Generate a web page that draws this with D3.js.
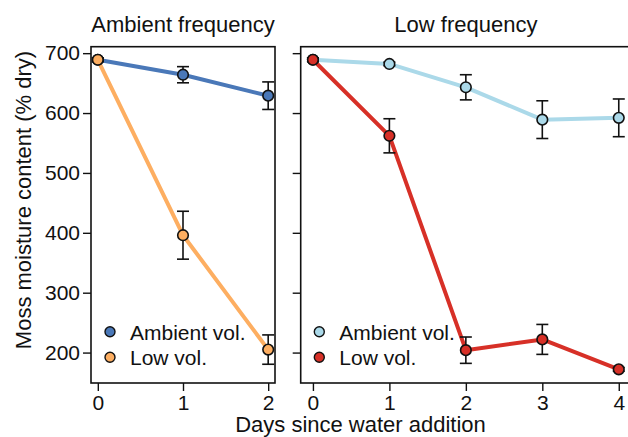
<!DOCTYPE html>
<html>
<head>
<meta charset="utf-8">
<script src="https://cdn.jsdelivr.net/npm/d3@7"></script>
<style>
  html, body { margin: 0; padding: 0; background: #fff; }
  svg { display: block; font-family: "Liberation Sans", Arial, Helvetica, sans-serif; }
</style>
</head>
<body>
<svg id="chart" width="628" height="437"></svg>
<script>
// ---- data ----
const panelTitles = ["Ambient frequency", "Low frequency"];
const seriesNames = ["Ambient vol.", "Low vol."];
const daysAmbientFreq = [0, 1, 2];
const daysLowFreq = [0, 1, 2, 3, 4];
const ambFreqAmbVol = [689, 664, 629];
const ambFreqAmbVolErr = [3, 13.5, 23];
const ambFreqLowVol = [689, 396, 205];
const ambFreqLowVolErr = [3, 40, 24.5];
const lowFreqAmbVol = [689, 682, 643, 589, 592];
const lowFreqAmbVolErr = [3, 3, 21, 31.5, 31.5];
const lowFreqLowVol = [689, 562, 204, 222, 172];
const lowFreqLowVolErr = [3, 28.5, 22, 25, 3];
const yTicks = [200, 300, 400, 500, 600, 700];
const xTicksAmbient = [0, 1, 2];
const xTicksLow = [0, 1, 2, 3, 4];
const yLabel = "Moss moisture content (% dry)";
const xLabel = "Days since water addition";

// ---- styles ----
const colors = {
  ambFreq: ["#4a78b8", "#fdae61"],
  lowFreq: ["#abd9e9", "#d73027"]
};

(function () {
const svg = d3.select("#chart");
const plotTop = 46.7, plotBottom = 383;
const y = d3.scaleLinear().domain([149.2, 710.8]).range([plotBottom, plotTop]);

const panels = [
  { title: panelTitles[0], days: daysAmbientFreq, ticks: xTicksAmbient,
    xr: [91, 275], dom: [-0.08, 2.08], labels: true,
    series: [
      { name: seriesNames[0], v: ambFreqAmbVol, e: ambFreqAmbVolErr, c: colors.ambFreq[0] },
      { name: seriesNames[1], v: ambFreqLowVol, e: ambFreqLowVolErr, c: colors.ambFreq[1] }
    ], legendX: 110 },
  { title: panelTitles[1], days: daysLowFreq, ticks: xTicksLow,
    xr: [300.7, 631], dom: [-0.16, 4.16], labels: false,
    series: [
      { name: seriesNames[0], v: lowFreqAmbVol, e: lowFreqAmbVolErr, c: colors.lowFreq[0] },
      { name: seriesNames[1], v: lowFreqLowVol, e: lowFreqLowVolErr, c: colors.lowFreq[1] }
    ], legendX: 319.3 }
];

panels.forEach(p => {
  const x = d3.scaleLinear().domain(p.dom).range(p.xr);
  const g = svg.append("g");

  g.append("rect")
    .attr("x", p.xr[0]).attr("y", plotTop)
    .attr("width", p.xr[1] - p.xr[0]).attr("height", plotBottom - plotTop)
    .attr("fill", "none").attr("stroke", "#111").attr("stroke-width", 1.6);

  const ya = g.append("g").attr("transform", `translate(${p.xr[0]},0)`)
    .call(d3.axisLeft(y).tickValues(yTicks).tickSize(8).tickPadding(3)
      .tickFormat(p.labels ? d3.format("d") : () => ""));
  ya.select(".domain").remove();
  ya.selectAll(".tick line").attr("stroke", "#111").attr("stroke-width", 1.4);
  ya.selectAll(".tick text").attr("font-size", 21).attr("fill", "#111")
    .attr("font-family", "Liberation Sans, Arial, sans-serif");

  const xa = g.append("g").attr("transform", `translate(0,${plotBottom})`)
    .call(d3.axisBottom(x).tickValues(p.ticks).tickSize(8).tickPadding(4).tickFormat(d3.format("d")));
  xa.select(".domain").remove();
  xa.selectAll(".tick line").attr("stroke", "#111").attr("stroke-width", 1.4);
  xa.selectAll(".tick text").attr("font-size", 21).attr("fill", "#111")
    .attr("font-family", "Liberation Sans, Arial, sans-serif");

  g.append("text")
    .attr("x", (p.xr[0] + p.xr[1]) / 2).attr("y", 31.5)
    .attr("text-anchor", "middle").attr("font-size", 22).attr("fill", "#111")
    .text(p.title);

  const line = d3.line().x((d, i) => x(p.days[i])).y(d => y(d));

  p.series.forEach(s => {
    g.append("path").datum(s.v)
      .attr("d", line).attr("fill", "none")
      .attr("stroke", s.c).attr("stroke-width", 4).attr("stroke-linejoin", "round");
  });

  p.series.forEach(s => {
    s.v.forEach((v, i) => {
      const cx = x(p.days[i]);
      const y1 = y(v + s.e[i]), y2 = y(v - s.e[i]);
      g.append("line").attr("x1", cx).attr("x2", cx).attr("y1", y1).attr("y2", y2)
        .attr("stroke", "#111").attr("stroke-width", 1.6);
      [y1, y2].forEach(yy => g.append("line")
        .attr("x1", cx - 6).attr("x2", cx + 6).attr("y1", yy).attr("y2", yy)
        .attr("stroke", "#111").attr("stroke-width", 1.6));
    });
  });

  p.series.forEach(s => {
    g.selectAll(null).data(s.v).enter().append("circle")
      .attr("cx", (d, i) => x(p.days[i])).attr("cy", d => y(d))
      .attr("r", 5.3).attr("fill", s.c).attr("stroke", "#111").attr("stroke-width", 1.6);
  });

  p.series.forEach((s, i) => {
    const ly = 331.7 + i * 25.5;
    g.append("circle").attr("cx", p.legendX).attr("cy", ly).attr("r", 5)
      .attr("fill", s.c).attr("stroke", "#111").attr("stroke-width", 1.4);
    g.append("text").attr("x", p.legendX + 20).attr("y", ly + 8)
      .attr("font-size", 21).attr("fill", "#111").text(s.name);
  });
});

svg.append("text")
  .attr("transform", "translate(31,200) rotate(-90)")
  .attr("text-anchor", "middle").attr("font-size", 22).attr("fill", "#111")
  .text(yLabel);
svg.append("text")
  .attr("x", 360.5).attr("y", 432)
  .attr("text-anchor", "middle").attr("font-size", 22).attr("fill", "#111")
  .text(xLabel);
})();
</script>
</body>
</html>
